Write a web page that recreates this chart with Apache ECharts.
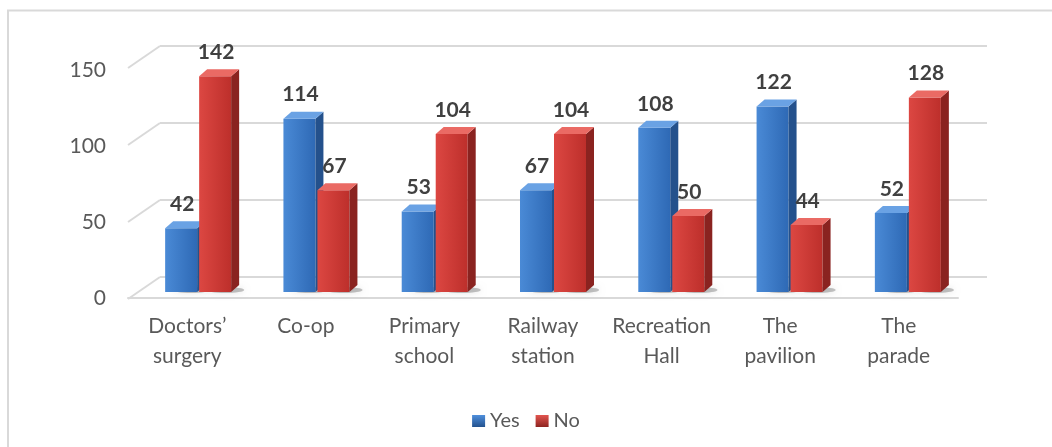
<!DOCTYPE html>
<html><head><meta charset="utf-8">
<script src="https://cdn.jsdelivr.net/npm/echarts@6/dist/echarts.min.js"></script>
<style>html,body{margin:0;padding:0;background:#fff}#c{width:1052px;height:447px}</style>
</head><body><div id="c"></div>
<script>
const categories = ["Doctors\u2019\nsurgery","Co-op","Primary\nschool","Railway\nstation","Recreation\nHall","The\npavilion","The\nparade"];
const seriesNames = ["Yes","No"];
const yesValues = [42,114,53,67,108,122,52];
const noValues = [142,67,104,104,50,44,128];
const yTicks = [0,50,100,150];

const FONT = 'Lato, "Liberation Sans", sans-serif';
const pal = [
  {front:['#4a8ad6','#2e69b5'], side:'#24518c', top:'#6aa2e4', legend:['#4f8fdc','#23528e']},
  {front:['#dc4742','#bd2f2b'], side:'#8a2320', top:'#ea6a64', legend:['#e2554f','#8e2420']}
];
function lg(a,b){return new echarts.graphic.LinearGradient(0,0,1,0,[{offset:0,color:a},{offset:1,color:b}]);}

function makeRender(si){
  return function(params, api){
    const idx = api.value(0), v = api.value(1);
    const t = api.coord([idx, v]), b = api.coord([idx, 0]);
    const w = 32, d = 8, h = 7;
    const x0 = si === 0 ? t[0] - 33 : t[0] + 1;
    const top = t[1], bot = b[1];
    const p = pal[si];
    return {type:'group', children:[
      {type:'ellipse', shape:{cx:x0+w/2+10, cy:bot-2, rx:w*0.6, ry:3},
        style:{fill:'rgba(60,60,60,0.3)', shadowBlur:6, shadowColor:'rgba(0,0,0,0.35)'}},
      {type:'rect', shape:{x:x0, y:top, width:w, height:bot-top}, style:{fill:lg(p.front[0], p.front[1])}},
      {type:'polygon', shape:{points:[[x0+w,top],[x0+w+d,top-h],[x0+w+d,bot-h],[x0+w,bot]]}, style:{fill:p.side}},
      {type:'polygon', shape:{points:[[x0,top],[x0+d,top-h],[x0+w+d,top-h],[x0+w,top]]}, style:{fill:p.top}},
      {type:'text', style:{text:String(v), x:x0+w/2+1, y:top-24, textAlign:'center', textVerticalAlign:'middle',
        font:'bold 21px ' + FONT, fill:'#404040'}}
    ]};
  };
}

const chart = echarts.init(document.getElementById('c'), null, {renderer:'canvas'});
chart.setOption({
  animation:false,
  graphic:[{type:'rect', shape:{x:8, y:10.5, width:1200, height:600}, style:{fill:'none', stroke:'#d9d9d9', lineWidth:2}, z:-10}],
  legend:{data:seriesNames.map((n,i)=>({name:n, icon:'rect', itemStyle:{color:new echarts.graphic.LinearGradient(0,0,0,1,[{offset:0,color:pal[i].legend[0]},{offset:1,color:pal[i].legend[1]}])}})),
    left:'center', top:406, itemWidth:13, itemHeight:12, itemGap:16,
    textStyle:{fontFamily:FONT, fontSize:20, color:'#595959'}},
  grid:[
    {left:139, right:85, top:64, bottom:155},
    {left:128, right:94, top:70, bottom:149},
    {left:160, right:65, top:46, bottom:170}
  ],
  xAxis:[
    {gridIndex:0, type:'category', data:categories, show:false},
    {gridIndex:1, type:'category', data:categories, axisTick:{show:false},
      axisLine:{lineStyle:{color:'#d9d9d9', width:2}},
      axisLabel:{fontFamily:FONT, fontSize:21, color:'#595959', lineHeight:30, margin:13, interval:0}},
    {gridIndex:2, type:'category', data:categories, show:false}
  ],
  yAxis:[
    {gridIndex:0, type:'value', min:0, max:150, interval:50, show:false},
    {gridIndex:1, type:'value', min:0, max:150, interval:50, splitLine:{show:false}, axisLine:{show:false}, axisTick:{show:false},
      axisLabel:{fontFamily:FONT, fontSize:21, color:'#595959', margin:22}},
    {gridIndex:2, type:'value', min:0, max:150, interval:50, axisLabel:{show:false}, axisLine:{show:false}, axisTick:{show:false},
      splitLine:{lineStyle:{color:'#d9d9d9', width:2}}}
  ],
  series:[
    {type:'custom', name:'gridDiag', xAxisIndex:2, yAxisIndex:2, silent:true, z:1,
      data:yTicks.map(v=>[0,v]),
      renderItem:function(params, api){
        const cs = params.coordSys;
        const y = api.coord([0, api.value(1)])[1];
        return {type:'line', shape:{x1:cs.x, y1:y, x2:cs.x-32, y2:y+22}, style:{stroke:'#d9d9d9', lineWidth:2}};
      }},
    {type:'custom', name:'Yes', xAxisIndex:0, yAxisIndex:0, z:3, itemStyle:{color:pal[0].front[1]},
      data:yesValues.map((v,i)=>[i,v]), renderItem:makeRender(0)},
    {type:'custom', name:'No', xAxisIndex:0, yAxisIndex:0, z:4, itemStyle:{color:pal[1].front[1]},
      data:noValues.map((v,i)=>[i,v]), renderItem:makeRender(1)}
  ]
});
</script></body></html>
